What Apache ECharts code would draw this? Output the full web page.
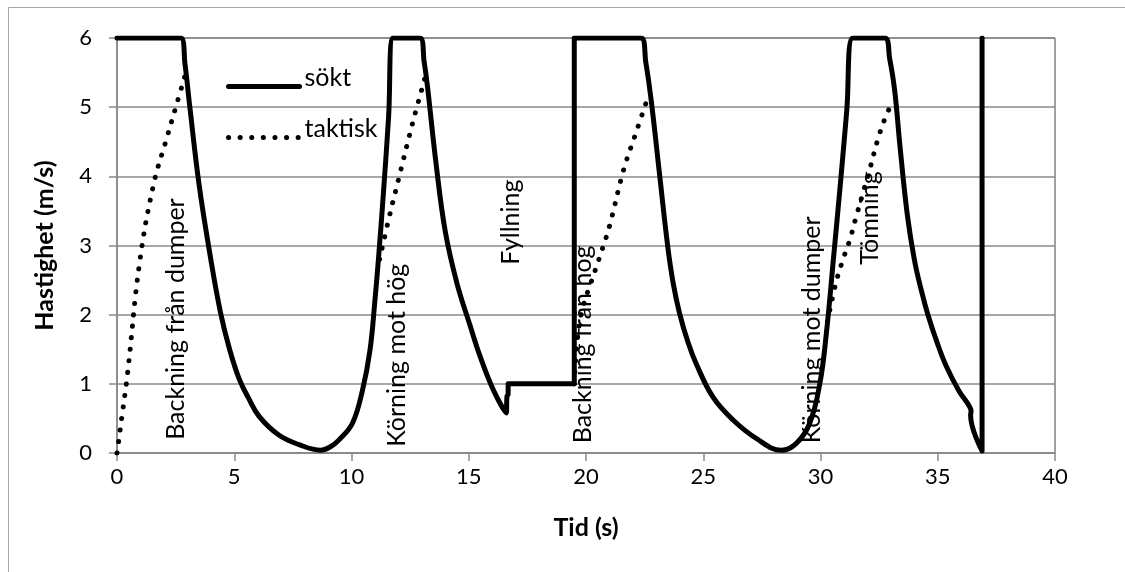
<!DOCTYPE html>
<html>
<head>
<meta charset="utf-8">
<script src="https://cdn.jsdelivr.net/npm/echarts@6/dist/echarts.min.js"></script>
<style>
  html, body { margin: 0; padding: 0; background: #fff; }
  #main { width: 1125px; height: 572px; }
</style>
</head>
<body>
<div id="main"></div>
<script>
// sökt: tid (s) och hastighet (m/s)
var soktT = [0, 2.72, 2.9, 3.1, 3.5, 4.0, 4.42, 4.8, 5.2, 5.6, 6.06, 6.9, 7.77, 8.69,
  9.1, 9.47, 10.04, 10.47, 10.79, 11.0, 11.16, 11.37, 11.58, 11.78,
  12.92, 13.1, 13.24, 13.6, 14.0, 14.5, 15.05, 15.48, 16.05, 16.6, 16.63, 16.68, 16.68, 19.5, 19.5,
  22.35, 22.55, 22.78, 23.13, 23.48, 23.72, 23.99, 24.35, 24.7, 25.41, 26.26, 27.26, 28.33,
  28.97, 29.54, 29.97, 30.25, 30.55, 30.85, 31.12, 31.38,
  32.74, 32.95, 33.16, 33.4, 33.7, 34.0, 34.3, 34.58, 35.0, 35.37, 35.9, 36.36, 36.42, 36.4, 36.89, 36.89];
var soktV = [6, 6, 5.62, 5.02, 3.88, 2.8, 2.02, 1.5, 1.08, 0.8, 0.53, 0.26, 0.12, 0.04,
  0.09, 0.19, 0.43, 0.91, 1.49, 2.21, 2.85, 3.8, 4.85, 6,
  6, 5.65, 5.3, 4.2, 3.2, 2.45, 1.85, 1.4, 0.91, 0.58, 0.82, 0.85, 1.0, 1.0, 6,
  6, 5.65, 5.1, 4.05, 3.0, 2.45, 2.02, 1.6, 1.29, 0.81, 0.48, 0.21, 0.04,
  0.14, 0.43, 1.0, 1.73, 2.8, 3.9, 4.95, 6,
  6, 5.7, 5.25, 4.4, 3.45, 2.8, 2.35, 2.0, 1.57, 1.25, 0.9, 0.67, 0.6, 0.55, 0.03, 6];

// taktisk: bara accelerationsdelarna syns, null = avbrott
var taktiskT = [0, 0.2, 0.45, 0.95, 1.55, 2.12, 2.55, 2.94, null,
  11.2, 11.6, 12.0, 12.59, 13.13, null,
  19.5, 19.65, 19.9, 20.2, 20.54, 21.0, 21.6, 22.1, 22.6, null,
  30.3, 30.65, 30.95, 31.24, 31.5, 31.8, 32.1, 32.45, 32.8, 33.05];
var taktiskV = [0, 0.5, 1.15, 2.72, 3.87, 4.55, 5.05, 5.5, null,
  2.8, 3.4, 3.95, 4.75, 5.42, null,
  1.0, 1.7, 2.15, 2.45, 2.79, 3.28, 4.09, 4.6, 5.1, null,
  1.9, 2.45, 2.79, 3.07, 3.39, 3.75, 4.1, 4.54, 4.88, 5.05];

// fasetiketter (lodrät text), nederkant i datakoordinater
var phaseNames = ['Backning från dumper', 'Körning mot hög', 'Fyllning', 'Backning från hög', 'Körning mot dumper', 'Tömning'];
var phaseT = [2.52, 11.94, 16.8, 19.87, 29.64, 32.1];
var phaseV = [0.19, 0.09, 2.72, 0.14, 0.14, 2.72];

function pairs(ts, vs) {
  return ts.map(function (t, i) {
    return t === null ? ['-', '-'] : [t, vs[i]];
  });
}

var chart = echarts.init(document.getElementById('main'));
var font = 'Lato, "DejaVu Sans", sans-serif';
var gray = '#8a8a8a';
var soktLine = { color: '#000', width: 5, cap: 'round', join: 'round' };
var taktiskLine = { color: '#000', width: 5, type: [0.1, 11.5], cap: 'round' };

chart.setOption({
  animation: false,
  backgroundColor: '#fff',
  textStyle: { fontFamily: font, color: '#000' },
  grid: {
    left: 117, right: 70, top: 38, bottom: 119,
    show: true, borderColor: '#404040', borderWidth: 1
  },
  legend: {
    left: 221, top: 60,
    orient: 'vertical',
    itemWidth: 71, itemHeight: 14, itemGap: 24,
    itemStyle: { opacity: 0 },
    formatter: '{t|{name}}',
    textStyle: {
      fontFamily: font, fontSize: 25, color: '#000',
      rich: { t: { fontFamily: font, fontSize: 25, color: '#000', padding: [0, 0, 18, 0] } }
    },
    data: [
      { name: 'sökt', lineStyle: soktLine },
      { name: 'taktisk', lineStyle: taktiskLine }
    ]
  },
  xAxis: {
    type: 'value', min: 0, max: 40, interval: 5,
    name: 'Tid (s)', nameLocation: 'middle', nameGap: 62,
    nameTextStyle: { fontFamily: font, fontSize: 25, fontWeight: 'bold', color: '#000' },
    axisLine: { lineStyle: { color: gray, width: 1.5 } },
    axisTick: { show: true, length: 8, lineStyle: { color: gray, width: 1.5 } },
    axisLabel: { fontSize: 22, color: '#000', margin: 13 },
    splitLine: { show: false }
  },
  yAxis: {
    type: 'value', min: 0, max: 6, interval: 1,
    name: 'Hastighet (m/s)', nameLocation: 'middle', nameGap: 60, nameRotate: 90,
    nameTextStyle: { fontFamily: font, fontSize: 25, fontWeight: 'bold', color: '#000' },
    axisLine: { show: true, lineStyle: { color: gray, width: 1.5 } },
    axisTick: { show: true, length: 8, lineStyle: { color: gray, width: 1.5 } },
    axisLabel: { fontSize: 22, color: '#000', margin: 25 },
    splitLine: { lineStyle: { color: gray, width: 1.5 } }
  },
  series: [
    {
      name: 'sökt', type: 'line', symbol: 'none', smooth: 0.4,
      lineStyle: soktLine,
      itemStyle: { color: '#000' },
      data: pairs(soktT, soktV), z: 3
    },
    {
      name: 'taktisk', type: 'line', symbol: 'none', smooth: 0.4,
      lineStyle: taktiskLine,
      itemStyle: { color: '#000' },
      data: pairs(taktiskT, taktiskV), z: 2
    }
  ]
});

// ram runt hela diagrammet + lodräta etiketter
var elems = [{
  type: 'rect', silent: true, z: -10,
  shape: { x: 8.5, y: 7.5, width: 1300, height: 700 },
  style: { fill: null, stroke: '#a6a6a6', lineWidth: 1 }
}];
phaseNames.forEach(function (name, i) {
  var p = chart.convertToPixel({ gridIndex: 0 }, [phaseT[i], phaseV[i]]);
  elems.push({
    type: 'text', x: p[0], y: p[1], rotation: Math.PI / 2, z: 10,
    style: {
      text: name, fontFamily: font, fontSize: 25, fill: '#000',
      align: 'left', verticalAlign: 'middle'
    }
  });
});
chart.setOption({ graphic: elems });
</script>
</body>
</html>
